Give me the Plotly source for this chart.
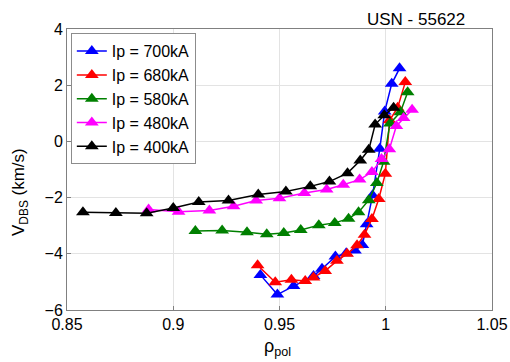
import plotly.graph_objects as go

labels = ["Ip = 700kA", "Ip = 680kA", "Ip = 580kA", "Ip = 480kA", "Ip = 400kA"]
colors = ["#0000ff", "#ff0000", "#008000", "#ff00ff", "#000000"]

rho_700 = [0.941, 0.949, 0.9566, 0.966, 0.970, 0.9763, 0.9814, 0.9855, 0.9890, 0.991, 0.9938, 0.9972, 0.9995, 1.0028, 1.0065]
v_700 = [-4.75, -5.45, -5.15, -4.79, -4.53, -4.10, -3.98, -3.88, -3.69, -2.95, -1.92, -0.26, 1.06, 2.05, 2.60]

rho_680 = [0.9397, 0.948, 0.9556, 0.9621, 0.966, 0.9715, 0.977, 0.9818, 0.9865, 0.990, 0.9935, 0.9967, 0.9998, 1.0018, 1.0056, 1.0092]
v_680 = [-4.41, -5.01, -4.92, -4.97, -4.84, -4.61, -4.25, -4.00, -3.70, -3.32, -2.76, -2.05, -1.15, 0.75, 1.20, 2.11]

rho_580 = [0.9104, 0.923, 0.9347, 0.944, 0.952, 0.960, 0.9685, 0.976, 0.9825, 0.9872, 0.992, 0.9958, 0.999, 1.002, 1.0069, 1.0103]
v_580 = [-3.19, -3.17, -3.23, -3.30, -3.26, -3.15, -2.98, -2.90, -2.75, -2.52, -2.09, -1.48, -0.72, 0.64, 1.04, 1.75]

rho_480 = [0.8884, 0.9025, 0.917, 0.9284, 0.939, 0.950, 0.9617, 0.9722, 0.980, 0.9877, 0.9935, 0.998, 1.0017, 1.005, 1.0084, 1.0124]
v_480 = [-2.42, -2.50, -2.46, -2.31, -2.10, -2.02, -1.84, -1.71, -1.54, -1.36, -1.09, -0.63, -0.28, 0.55, 0.83, 1.13]

rho_400 = [0.8575, 0.873, 0.8875, 0.900, 0.912, 0.926, 0.940, 0.953, 0.9645, 0.9735, 0.982, 0.988, 0.992, 0.995, 0.9993, 1.0037]
v_400 = [-2.52, -2.55, -2.56, -2.37, -2.16, -2.10, -1.89, -1.78, -1.60, -1.43, -1.13, -0.68, -0.30, 0.60, 0.93, 1.20]

xs = [rho_700, rho_680, rho_580, rho_480, rho_400]
ys = [v_700, v_680, v_580, v_480, v_400]

x_ticks = [0.85, 0.9, 0.95, 1.0, 1.05]
x_ticklabels = ["0.85", "0.9", "0.95", "1", "1.05"]
y_ticks = [-6, -4, -2, 0, 2, 4]

font = "Liberation Sans, Arial, sans-serif"

fig = go.Figure()
for x, y, name, c in zip(xs, ys, labels, colors):
    fig.add_trace(go.Scatter(
        x=x, y=y, name=name, mode="lines+markers",
        line=dict(color=c, width=1.5),
        marker=dict(symbol="triangle-up", size=12, color=c),
    ))

axis_common = dict(
    showgrid=True, gridcolor="#e3e3e3", gridwidth=1,
    showline=True, linecolor="#808080", linewidth=1, mirror=True,
    ticks="inside", ticklen=4, tickcolor="#808080",
    zeroline=False, automargin=False,
    tickfont=dict(family=font, size=16, color="black"),
)

fig.update_layout(
    width=510, height=362,
    margin=dict(l=67, r=18, t=29, b=52),
    paper_bgcolor="white", plot_bgcolor="white",
    font=dict(family=font, size=16, color="black"),
    showlegend=True,
    legend=dict(
        x=0.009, y=0.985, xanchor="left", yanchor="top",
        bgcolor="white", bordercolor="#8c8c8c", borderwidth=1,
        font=dict(family=font, size=16, color="black"),
        tracegroupgap=0, itemwidth=30,
    ),
    xaxis=dict(range=[0.85, 1.05], tickvals=x_ticks, ticktext=x_ticklabels, **axis_common),
    yaxis=dict(range=[-6, 4], tickvals=y_ticks, **axis_common),
    annotations=[
        dict(text="USN - 55622", xref="paper", yref="paper", x=0.822, y=1.0,
             xanchor="center", yanchor="bottom", showarrow=False,
             font=dict(family=font, size=17, color="black"), yshift=-2),
        dict(text="ρ<sub>pol</sub>", xref="paper", yref="paper", x=0.495, y=0,
             xanchor="center", yanchor="top", showarrow=False,
             font=dict(family=font, size=18, color="black"), yshift=-24),
        dict(text="V<sub>DBS</sub> (km/s)", xref="paper", yref="paper", x=0, y=0.42,
             xanchor="right", yanchor="middle", showarrow=False, textangle=-90,
             font=dict(family=font, size=17, color="black"), xshift=-34),
    ],
)

fig.write_html(
    "out.html",
    config={"displayModeBar": False},
    post_script="document.body.style.margin='0px';document.body.style.overflow='hidden';",
)
